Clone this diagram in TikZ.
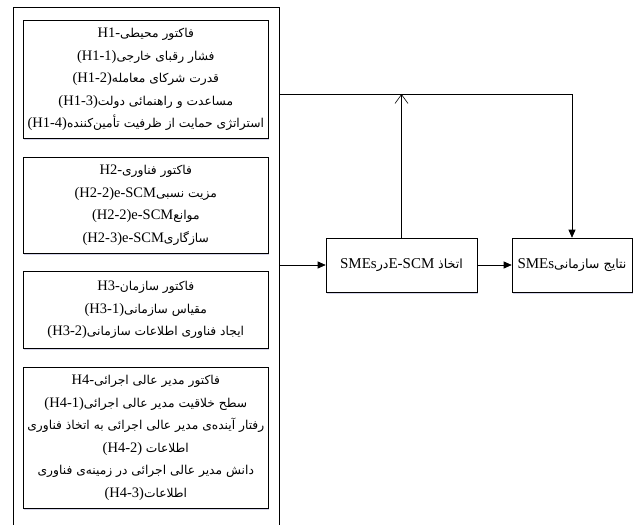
\documentclass[tikz,border=0pt]{standalone}
\usepackage{fontspec}
\setmainfont{Liberation Serif}
\newfontfamily\fa[Script=Arabic,Scale=0.845]{DejaVu Sans}
\TeXXeTstate=1
\usetikzlibrary{arrows.meta,shadows}
\newcommand\pl[2]{\beginR{\fa #1}\beginL #2\endL\endR}
\newcommand\pf[1]{\beginR{\fa #1}\endR}
\begin{document}
\begin{tikzpicture}[x=1pt,y=-1pt,
  line/.style={line width=0.6pt},
  box/.style={draw, line width=0.6pt, fill=white, inner sep=0pt, align=center,
    font=\fontsize{14.5}{22.5}\selectfont},
  fbox/.style={box, minimum width=245pt, anchor=north west,
    drop shadow={shadow xshift=1pt, shadow yshift=-1.5pt, opacity=0.25, fill=blue!35!gray}},
  obox/.style={box, font=\fontsize{15}{20}\selectfont, minimum height=54pt,
    drop shadow={shadow xshift=1pt, shadow yshift=-1.5pt, opacity=0.25, fill=blue!35!gray}},
  tri/.style={-{Triangle[length=8pt,width=7pt]}},
  barb/.style={-{Straight Barb[length=9pt,width=13pt,line width=0.6pt]}}]
\useasboundingbox (0,0) rectangle (633,525);
\node[draw, line width=0.6pt, minimum width=266pt, minimum height=560pt,
  anchor=north west, inner sep=0pt] (outer) at (13,7) {};
\node[fbox, minimum height=118pt] (h1) at (23,20) {%
  \pl{فاکتور محیطی}{H1-}\\
  \pl{فشار رقبای خارجی}{(H1-1)}\\
  \pl{قدرت شرکای معامله}{(H1-2)}\\
  \pl{مساعدت و راهنمائی دولت}{(H1-3)}\\
  \pl{استراتژی حمایت از ظرفیت تأمین‌کننده}{(H1-4)}};
\node[fbox, minimum height=96pt] (h2) at (23,157) {%
  \pl{فاکتور فناوری}{H2-}\\
  \pl{مزیت نسبی}{(H2-2)e-SCM}\\
  \pl{موانع}{(H2-2)e-SCM}\\
  \pl{سازگاری}{(H2-3)e-SCM}};
\node[fbox, minimum height=77pt] (h3) at (23,271) {%
  \pl{فاکتور سازمان}{H3-}\\
  \pl{مقیاس سازمانی}{(H3-1)}\\
  \pl{ایجاد فناوری اطلاعات سازمانی}{(H3-2)}};
\node[fbox, minimum height=141pt] (h4) at (23,367) {%
  \pl{فاکتور مدیر عالی اجرائی}{H4-}\\
  \pl{سطح خلاقیت مدیر عالی اجرائی}{(H4-1)}\\
  \pf{رفتار آینده‌ی مدیر عالی اجرائی به اتخاذ فناوری}\\
  \beginR{\fa اطلاعات}\ \beginL(H4-2)\endL\endR\\
  \pf{دانش مدیر عالی اجرائی در زمینه‌ی فناوری}\\
  \pl{اطلاعات}{(H4-3)}};
\node[obox, minimum width=151pt] (mid) at (401.5,265) {%
  \beginR{\fa اتخاذ} \beginL E-SCM\endL{\fa در}\beginL SMEs\endL\endR};
\node[obox, minimum width=120pt] (res) at (572,265) {%
  \pl{نتایج سازمانی}{SMEs}};
\path (outer.north east) ++(0,87) coordinate (fb);
\draw[line, tri] (outer.east |- mid.west) -- (mid.west);
\draw[line, tri] (mid.east) -- (res.west);
\draw[line, barb] (mid.north) -- (mid.north |- fb);
\draw[line, tri] (fb) -- (res.north |- fb) -- (res.north);
\end{tikzpicture}
\end{document}
